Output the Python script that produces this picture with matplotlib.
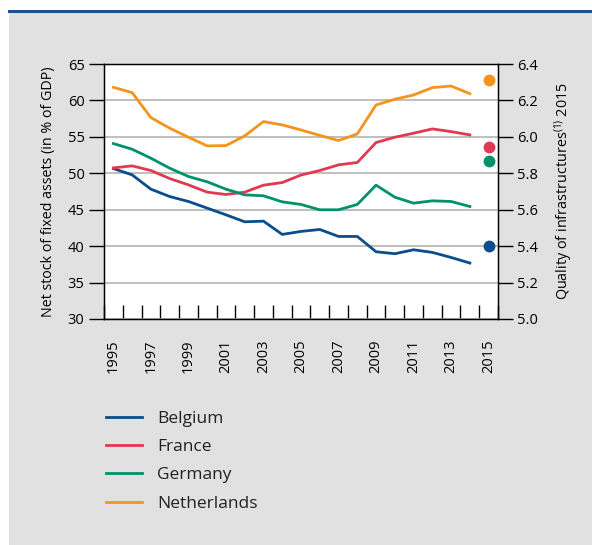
import numpy as np
import matplotlib
matplotlib.use("Agg")
from matplotlib import pyplot as plt
from matplotlib.patches import Rectangle
from matplotlib.lines import Line2D

plt.rcParams['font.family'] = ['Open Sans', 'DejaVu Sans']

years = list(range(1995, 2016))
line_years = list(range(1995, 2015))

belgium = [50.65, 49.78, 47.82, 46.81, 46.13, 45.22, 44.30, 43.34, 43.43, 41.61,
           42.02, 42.29, 41.33, 41.33, 39.23, 38.96, 39.50, 39.14, 38.45, 37.68]
france = [50.74, 51.02, 50.38, 49.28, 48.41, 47.41, 47.09, 47.41, 48.37, 48.73,
          49.76, 50.38, 51.16, 51.48, 54.22, 54.95, 55.50, 56.09, 55.72, 55.27]
germany = [54.08, 53.30, 52.07, 50.70, 49.56, 48.83, 47.82, 47.04, 46.91, 46.08,
           45.72, 44.99, 44.99, 45.72, 48.37, 46.72, 45.90, 46.22, 46.13, 45.44]
netherlands = [61.80, 61.07, 57.64, 56.20, 54.95, 53.76, 53.80, 55.13, 57.10, 56.64,
               55.95, 55.20, 54.49, 55.40, 59.38, 60.16, 60.75, 61.76, 61.98, 60.93]

# quality of infrastructures 2015 (right axis)
quality_2015 = {'Belgium': 5.40, 'France': 5.945, 'Germany': 5.87, 'Netherlands': 6.31}

countries = ['Belgium', 'France', 'Germany', 'Netherlands']
colors = {'Belgium': '#0a4d8c', 'France': '#e03a52', 'Germany': '#00916b', 'Netherlands': '#f5941c'}
series = {'Belgium': belgium, 'France': france, 'Germany': germany, 'Netherlands': netherlands}

W, H = 592, 545
fig = plt.figure(figsize=(W / 100, H / 100), dpi=100)
fig.patch.set_facecolor('white')

# grey panel and blue top rule
fig.patches.append(Rectangle((9 / W, 0), 1 - 9 / W, 1 - 12 / H, transform=fig.transFigure,
                             facecolor='#e1e1e1', edgecolor='none', zorder=-10))
fig.lines.append(Line2D([9 / W, 1], [1 - 11 / H, 1 - 11 / H], transform=fig.transFigure,
                        color='#1f5191', lw=2.2, zorder=-9))

left, right, top, bottom = 104, 498, 64, 319
ax = fig.add_axes([left / W, 1 - bottom / H, (right - left) / W, (bottom - top) / H])
ax.set_facecolor('white')

x = np.arange(len(line_years)) + 0.5
for c in countries:
    ax.plot(x, series[c], color=colors[c], lw=2, label=c)

ax.set_xlim(0, len(years))
ax.set_ylim(30, 65)
ax.set_yticks(range(30, 66, 5))
ax.yaxis.grid(True, color='#b4b4b4', lw=1.2)
ax.set_axisbelow(True)

ax.set_xticks(range(len(years) + 1))
ax.set_xticklabels([])
ax.set_xticks(np.arange(0, len(years), 2) + 0.5, minor=True)
ax.set_xticklabels([str(y) for y in years[::2]], minor=True, rotation=90, fontsize=10.5)
ax.tick_params(axis='x', which='major', direction='in', length=10, width=1)
ax.tick_params(axis='x', which='minor', length=0, pad=15)
ax.tick_params(axis='y', direction='out', length=11, width=1, labelsize=10.5, pad=3)
for s in ax.spines.values():
    s.set_linewidth(1)

ax.set_ylabel('Net stock of fixed assets (in % of GDP)', fontsize=10.3, labelpad=8)

ax2 = ax.twinx()
ax2.set_ylim(5.0, 6.4)
ax2.set_yticks(np.arange(5.0, 6.41, 0.2))
ax2.set_yticklabels(['%.1f' % v for v in np.arange(5.0, 6.41, 0.2)])
ax2.tick_params(axis='y', direction='out', length=11, width=1, labelsize=10.5, pad=3)
for c in countries:
    ax2.plot([len(years) - 0.5], [quality_2015[c]], 'o', color=colors[c], ms=7.5)
ax2.set_ylabel('Quality of infrastructures$^{\\mathregular{(1)}}$ 2015', fontsize=10.4, labelpad=10)

handles = [Line2D([], [], color=colors[c], lw=2) for c in countries]
fig.legend(handles, countries, loc='upper left', bbox_to_anchor=(90 / W, 1 - 395 / H),
           frameon=False, fontsize=12.5, handlelength=2.1, handletextpad=0.85,
           labelspacing=0.7, labelcolor='#222222')

fig.savefig('out.png', dpi=100)
